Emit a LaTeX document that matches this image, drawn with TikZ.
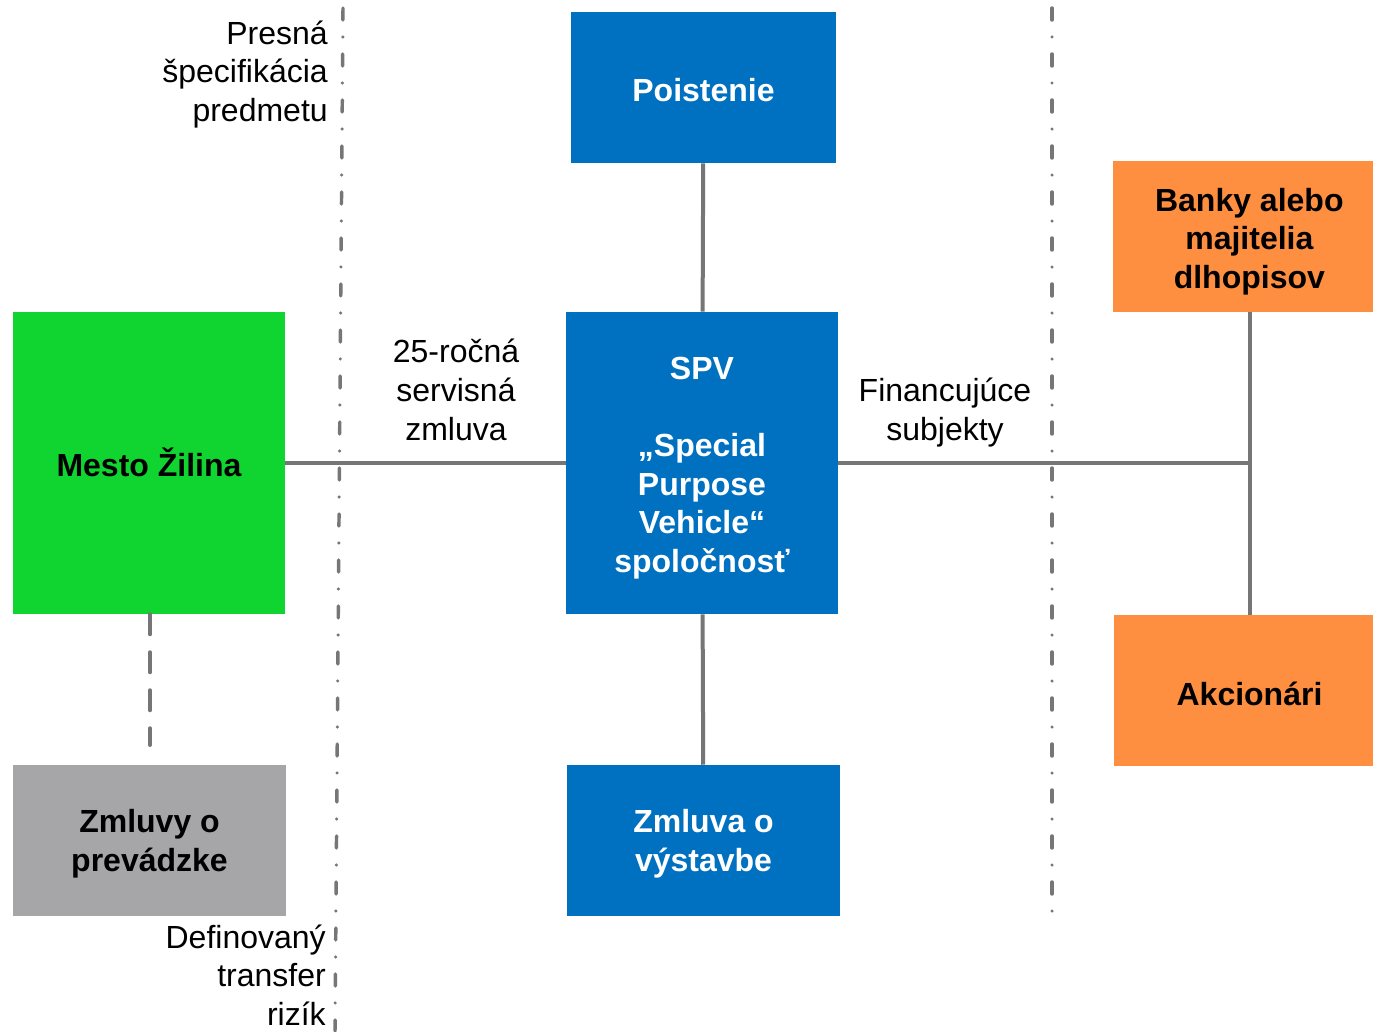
\documentclass[tikz,border=0pt]{standalone}
\usepackage{fontspec}
\setmainfont{Liberation Sans}
\definecolor{spvblue}{RGB}{0,112,192}
\definecolor{citygreen}{RGB}{16,212,48}
\definecolor{bankorange}{RGB}{255,143,64}
\definecolor{opgray}{RGB}{166,166,168}
\definecolor{linegray}{RGB}{118,118,118}
\begin{document}
\begin{tikzpicture}[
  x=0.75pt, y=-0.75pt,
  box/.style={rectangle, inner sep=0pt},
  boxtext/.style={align=center, inner sep=0pt, yshift=-2.25pt,
    font=\fontsize{24}{29}\selectfont\bfseries},
  bluetext/.style={boxtext, text=white},
  link/.style={draw=linegray, line width=3pt},
  border/.style={draw=linegray, line width=2.6pt, line cap=round,
    dash pattern=on 9pt off 12.75pt on 0pt off 12.75pt},
  note/.style={inner sep=0pt, font=\fontsize{24}{29}\selectfont}
]
\useasboundingbox (0,0) rectangle (1373,1031);

% separators
\draw[border] (343,8) -- (335,1031);
\draw[border] (1052,8) -- (1052,915);

% boxes
\node[box, fill=spvblue, minimum width=198.75pt, minimum height=113.25pt,
  label={[bluetext]center:Poistenie}] (poist) at (703.5,87.5) {};
\node[box, fill=spvblue, minimum width=204pt, minimum height=226.5pt,
  label={[bluetext, yshift=-1.5pt]center:SPV\\[29pt]„Special\\Purpose\\Vehicle“\\spoločnosť}] (spv) at (702,463) {};
\node[box, fill=spvblue, minimum width=204.75pt, minimum height=113.25pt,
  label={[bluetext]center:Zmluva o\\výstavbe}] (vyst) at (703.5,840.5) {};
\node[box, fill=citygreen, minimum width=204pt, minimum height=226.5pt,
  label={[boxtext, yshift=3pt]center:Mesto Žilina}] (mesto) at (149,463) {};
\node[box, fill=opgray, minimum width=204.75pt, minimum height=113.25pt,
  label={[boxtext]center:Zmluvy o\\prevádzke}] (prev) at (149.5,840.5) {};
\node[box, fill=bankorange, minimum width=195pt, minimum height=113.25pt,
  label={[boxtext, xshift=4.75pt, yshift=-1.5pt]center:Banky alebo\\majitelia\\dlhopisov}] (banky) at (1243,236.5) {};
\node[box, fill=bankorange, minimum width=194.25pt, minimum height=113.25pt,
  label={[boxtext, xshift=4.5pt]center:Akcionári}] (akc) at (1243.5,690.5) {};

% labels
\node[note, align=right, anchor=east] (spec) at (328,74.5) {Presná\\špecifikácia\\predmetu};
\node[note, align=center] (servis) at (456,390) {25-ročná\\servisná\\zmluva};
\node[note, align=center] (fin) at (945,412.5) {Financujúce\\subjekty};
\node[note, align=right, anchor=east] (riz) at (326,975) {Definovaný\\transfer\\rizík};

% connectors
\coordinate (fj) at (1250,463);
\coordinate (dend) at (150,745);
\draw[link] (poist) -- (spv);
\draw[link] (spv) -- (vyst);
\draw[link] (mesto) -- (spv);
\draw[link] (spv) -- (fj);
\draw[link] (banky.south -| fj) -- (fj) -- (akc.north -| fj);
\draw[link, line cap=round, dash pattern=on 15pt off 13.5pt] (mesto.south -| dend) -- (dend);
\end{tikzpicture}
\end{document}
